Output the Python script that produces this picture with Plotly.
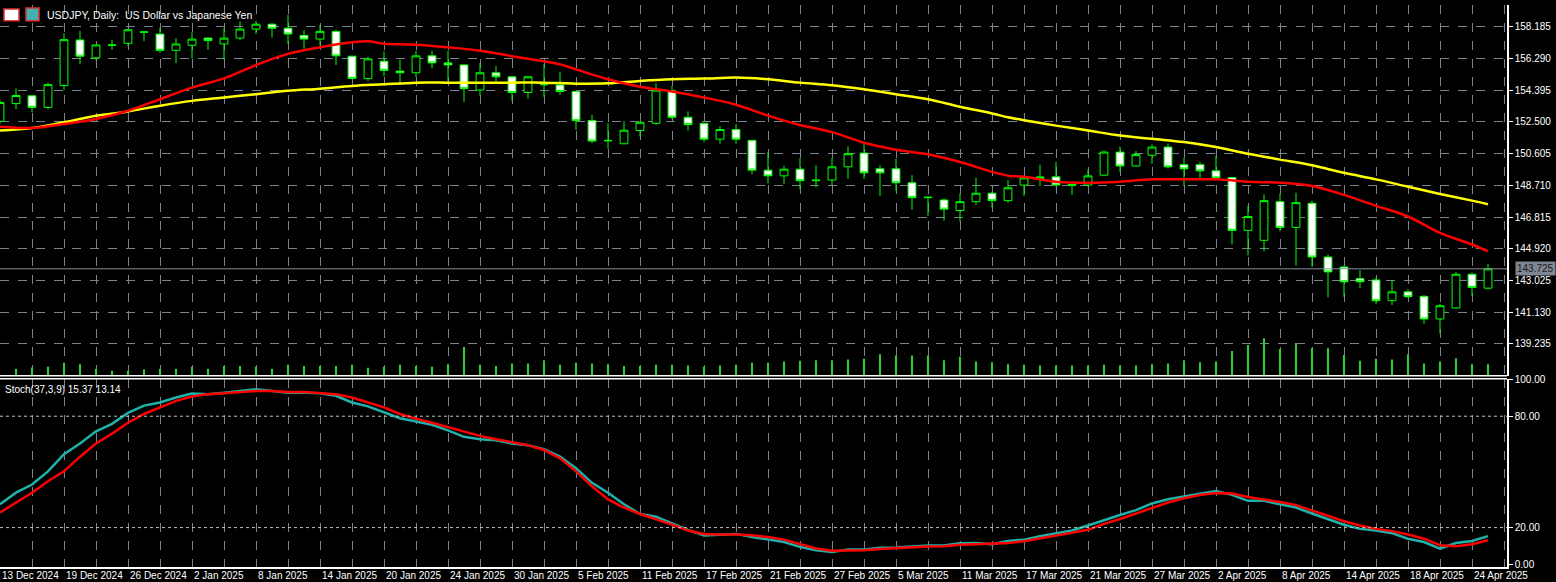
import plotly.graph_objects as go

# daily USDJPY candles, bar index 0 = 13 Dec 2024 ... 93 = 25 Apr 2025
opens = [152.54, 153.60, 154.06, 153.37, 154.67, 157.40, 156.33, 157.08, 157.20, 157.86,
         157.75, 156.78, 157.08, 157.51, 157.16, 157.51, 158.05, 158.34, 158.10, 157.67,
         157.45, 157.91, 156.43, 155.09, 156.13, 155.54, 155.44, 156.45, 156.03, 155.91,
         154.41, 155.44, 155.20, 154.26, 154.75, 154.71, 154.32, 152.58, 151.40, 151.20,
         151.99, 152.42, 154.36, 152.78, 152.42, 151.47, 152.05, 151.40, 149.62, 149.28,
         149.68, 148.99, 149.03, 149.82, 150.64, 149.70, 149.70, 148.87, 147.98, 147.84,
         147.21, 147.74, 148.24, 147.80, 148.73, 149.12, 149.22, 148.70, 148.73, 149.32,
         150.70, 149.87, 150.51, 151.00, 149.95, 149.95, 149.58, 149.18, 146.02, 145.43,
         147.74, 146.20, 147.64, 144.43, 143.83, 143.14, 143.06, 141.82, 142.35, 142.08,
         140.73, 141.39, 143.40, 142.57]
highs = [153.80, 154.51, 154.10, 154.85, 157.81, 157.95, 157.15, 157.42, 158.05, 157.90,
         158.15, 157.51, 157.87, 157.57, 158.10, 158.50, 158.54, 158.40, 158.90, 157.97,
         158.30, 158.00, 156.45, 156.39, 156.72, 156.23, 156.76, 156.76, 156.76, 155.95,
         156.03, 155.84, 155.25, 155.25, 155.95, 155.50, 154.35, 152.92, 152.42, 152.54,
         152.50, 154.81, 154.65, 153.13, 152.45, 152.24, 152.38, 151.42, 150.70, 149.88,
         150.35, 149.91, 150.35, 151.04, 151.20, 149.91, 150.31, 149.32, 148.05, 147.94,
         148.24, 149.16, 148.34, 149.03, 149.20, 149.95, 150.11, 148.80, 149.66, 150.80,
         151.04, 150.76, 151.16, 151.20, 150.35, 150.11, 150.47, 149.22, 147.49, 148.18,
         148.24, 148.27, 147.80, 144.58, 143.93, 143.64, 143.20, 143.06, 142.51, 142.16,
         141.62, 143.54, 143.50, 144.03]
lows = [152.40, 153.27, 153.07, 153.27, 154.40, 155.94, 156.20, 156.82, 157.02, 157.32,
        156.63, 156.01, 156.29, 156.82, 156.23, 157.38, 157.75, 157.55, 157.16, 156.88,
        157.08, 155.90, 155.05, 154.95, 155.24, 154.75, 155.18, 155.70, 154.91, 153.70,
        154.06, 154.91, 153.76, 153.90, 154.00, 154.12, 152.03, 151.24, 150.90, 151.16,
        151.63, 152.34, 152.68, 151.99, 151.30, 151.20, 151.20, 149.38, 148.83, 148.79,
        148.47, 148.59, 148.73, 149.09, 149.09, 148.08, 148.39, 147.25, 146.89, 146.60,
        146.56, 147.55, 147.39, 147.68, 148.08, 148.67, 148.63, 148.14, 148.63, 149.26,
        149.52, 149.81, 150.01, 149.72, 148.67, 149.12, 149.12, 145.18, 144.52, 144.78,
        145.97, 143.93, 143.85, 142.02, 142.06, 142.57, 141.62, 141.56, 142.00, 140.44,
        139.85, 141.35, 142.12, 142.50]
closes = [153.66, 154.08, 153.37, 154.73, 157.42, 156.43, 157.10, 157.10, 158.01, 157.88,
          156.78, 157.16, 157.45, 157.36, 157.51, 158.05, 158.34, 158.10, 157.75, 157.45,
          157.91, 156.45, 155.10, 156.27, 155.58, 155.44, 156.45, 156.03, 155.91, 154.49,
          155.44, 155.20, 154.26, 155.20, 154.73, 154.32, 152.58, 151.36, 151.38, 152.01,
          152.48, 154.40, 152.78, 152.34, 151.47, 152.05, 151.47, 149.62, 149.28, 149.68,
          148.99, 149.02, 149.82, 150.61, 149.46, 149.46, 148.87, 147.98, 148.00, 147.29,
          147.74, 148.24, 147.80, 148.57, 149.16, 149.22, 148.73, 148.76, 149.28, 150.70,
          149.87, 150.55, 151.00, 149.82, 149.70, 149.58, 149.16, 146.02, 146.85, 147.80,
          146.20, 147.68, 144.43, 143.54, 142.95, 142.95, 141.82, 142.35, 142.06, 140.73,
          141.52, 143.40, 142.61, 143.725]

# tick volume, bars 1..93
volume = [21, 25, 27, 39, 35, 21, 15, 15, 19, 21, 21, 27, 21, 29, 29, 27, 21, 33, 29, 29,
          29, 33, 24, 27, 33, 29, 27, 35, 87, 33, 29, 37, 37, 47, 33, 39, 37, 35, 29, 29,
          33, 33, 31, 27, 31, 33, 39, 39, 43, 45, 47, 47, 49, 51, 65, 61, 61, 61, 47, 57,
          43, 41, 35, 33, 31, 31, 31, 31, 33, 31, 31, 35, 37, 47, 41, 43, 75, 93, 113, 81,
          99, 83, 83, 63, 45, 51, 49, 65, 37, 43, 53, 35, 35]

# moving averages read at selected bars
ma_fast_x = [0, 2, 4, 6, 8, 10, 12, 14, 16, 18, 20, 22, 23, 24, 26, 28, 30, 32, 35, 36,
             38, 40, 42, 44, 46, 48, 50, 52, 54, 56, 58, 60, 62, 63, 64, 66, 68, 70, 72, 74,
             76, 78, 80, 82, 84, 86, 88, 90, 92, 93]
ma_fast = [152.22, 152.14, 152.38, 152.68, 153.17, 153.86, 154.55, 155.10, 155.90, 156.57,
           156.96, 157.26, 157.32, 157.18, 157.12, 156.96, 156.76, 156.43, 155.94, 155.64,
           155.05, 154.60, 154.32, 153.96, 153.53, 152.88, 152.32, 151.89, 151.26, 150.84,
           150.57, 150.11, 149.52, 149.29, 149.22, 148.93, 148.87, 148.93, 149.07, 149.07,
           149.07, 148.93, 148.87, 148.67, 148.14, 147.49, 146.85, 145.87, 145.18, 144.78]
ma_slow_x = [0, 2, 4, 6, 8, 10, 12, 14, 16, 18, 20, 22, 24, 26, 28, 30, 32, 34, 36, 38,
             40, 42, 44, 46, 48, 50, 52, 54, 56, 58, 60, 62, 63, 64, 66, 68, 70, 72, 74, 76,
             78, 80, 82, 84, 86, 88, 90, 92, 93]
ma_slow = [151.99, 152.14, 152.48, 152.87, 153.13, 153.47, 153.76, 153.96, 154.16, 154.36,
           154.49, 154.65, 154.75, 154.85, 154.85, 154.85, 154.85, 154.85, 154.79, 154.81,
           154.95, 155.05, 155.09, 155.15, 155.05, 154.85, 154.69, 154.45, 154.16, 153.86,
           153.41, 153.01, 152.78, 152.60, 152.28, 151.99, 151.69, 151.49, 151.30, 151.00,
           150.60, 150.25, 149.91, 149.46, 149.07, 148.63, 148.20, 147.80, 147.58]

# Stochastic(37,3,9)
stoch_main = [32.6, 38.8, 43.2, 50.3, 59.5, 65.3, 71.9, 75.9, 81.8, 85.7, 87.4, 90.1, 92.2, 91.9,
              92.7, 93.6, 94.5, 93.6, 92.7, 92.7, 92.4, 91.0, 87.4, 85.3, 82.1, 78.9, 77.2, 75.4,
              72.4, 68.9, 67.6, 67.1, 65.3, 64.4, 62.3, 58.2, 52.0, 44.1, 38.8, 32.6, 27.3, 25.8,
              22.3, 18.8, 15.8, 16.3, 16.6, 14.9, 13.7, 12.2, 9.6, 7.8, 6.9, 8.2, 8.2, 9.1, 9.2,
              9.9, 10.3, 10.3, 11.5, 11.7, 11.0, 12.8, 13.5, 15.3, 17.0, 18.4, 21.1, 24.1, 26.8,
              29.4, 33.0, 35.3, 37.0, 38.3, 39.7, 37.6, 34.4, 34.4, 32.6, 30.8, 27.6, 24.6, 21.5,
              19.3, 18.4, 17.0, 14.0, 12.2, 8.7, 11.7, 12.8, 15.37]
stoch_signal = [28.1, 33.4, 38.8, 45.0, 50.3, 58.2, 65.3, 70.6, 76.5, 81.2, 84.8, 88.3, 90.6, 91.9,
                92.4, 93.1, 93.6, 93.6, 93.1, 93.1, 92.7, 91.9, 90.1, 87.4, 84.8, 81.2, 78.6, 76.5,
                74.2, 71.5, 69.4, 67.6, 66.2, 64.4, 61.8, 57.3, 50.3, 42.3, 35.2, 30.8, 27.3, 24.6,
                21.6, 18.4, 16.6, 16.3, 16.3, 15.8, 14.9, 13.5, 11.0, 8.7, 7.5, 7.5, 7.8, 8.5, 8.9,
                9.6, 9.8, 9.9, 10.8, 11.0, 11.2, 11.7, 12.6, 14.0, 15.8, 17.2, 18.8, 22.0, 24.6,
                27.6, 30.5, 33.5, 35.8, 37.6, 38.6, 38.3, 36.5, 35.3, 33.8, 32.1, 29.1, 26.4, 23.4,
                21.1, 19.3, 18.1, 16.3, 14.0, 10.5, 9.9, 11.0, 13.14]

date_labels = ["13 Dec 2024", "19 Dec 2024", "26 Dec 2024", "2 Jan 2025", "8 Jan 2025",
               "14 Jan 2025", "20 Jan 2025", "24 Jan 2025", "30 Jan 2025", "5 Feb 2025",
               "11 Feb 2025", "17 Feb 2025", "21 Feb 2025", "27 Feb 2025", "5 Mar 2025",
               "11 Mar 2025", "17 Mar 2025", "21 Mar 2025", "27 Mar 2025", "2 Apr 2025",
               "8 Apr 2025", "14 Apr 2025", "18 Apr 2025", "24 Apr 2025"]
price_ticks = [158.185, 156.290, 154.395, 152.500, 150.605, 148.710, 146.815,
               144.920, 143.025, 141.130, 139.235]
last_price = 143.725

bars = list(range(len(opens)))
GRID = "#7d838e"
FONT = "Liberation Sans, Arial, sans-serif"

fig = go.Figure()
fig.add_trace(go.Bar(x=bars[1:], y=volume, width=0.13, marker_color="#32cd32",
                     marker_line_width=0, yaxis="y3", hoverinfo="skip"))
fig.add_trace(go.Candlestick(
    x=bars, open=opens, high=highs, low=lows, close=closes,
    increasing=dict(fillcolor="#000000", line=dict(color="#00ff00", width=1)),
    decreasing=dict(fillcolor="#ffffff", line=dict(color="#00ff00", width=1)),
    whiskerwidth=0, hoverinfo="skip"))
fig.add_trace(go.Scatter(x=ma_slow_x, y=ma_slow, mode="lines",
                         line=dict(color="#ffff00", width=2.5), line_shape="spline"))
fig.add_trace(go.Scatter(x=ma_fast_x, y=ma_fast, mode="lines",
                         line=dict(color="#ff0000", width=2.5), line_shape="spline"))
fig.add_trace(go.Scatter(x=bars, y=stoch_main, mode="lines", xaxis="x2", yaxis="y2",
                         line=dict(color="#20b2aa", width=2.5)))
fig.add_trace(go.Scatter(x=bars, y=stoch_signal, mode="lines", xaxis="x2", yaxis="y2",
                         line=dict(color="#ff0000", width=2.5)))

main_bottom = 0.3404
stoch_top = 0.335
xr = [0, 1507 / 16]

shapes = [
    dict(type="line", xref="paper", yref="paper", x0=0, x1=1, y0=main_bottom, y1=main_bottom,
         line=dict(color="#ffffff", width=1.5)),
    dict(type="line", xref="paper", yref="paper", x0=0, x1=1, y0=stoch_top, y1=stoch_top,
         line=dict(color="#ffffff", width=1.5)),
    dict(type="line", xref="paper", yref="y", x0=0, x1=1, y0=last_price, y1=last_price,
         line=dict(color="#8a929c", width=1)),
]
for lvl in (80, 20):
    shapes.append(dict(type="line", xref="paper", yref="y2", x0=0, x1=1, y0=lvl, y1=lvl,
                       line=dict(color="#c0c0c0", width=1, dash="dot")))
# toolbar icons
shapes += [
    dict(type="rect", xref="paper", yref="paper", x0=4 / 1507, x1=19 / 1507,
         y0=1 - 4 / 567, y1=1 - 16 / 567, fillcolor="#ffffff", line=dict(color="#e03030", width=1.5)),
    dict(type="rect", xref="paper", yref="paper", x0=26 / 1507, x1=39 / 1507,
         y0=1 - 3 / 567, y1=1 - 16 / 567, fillcolor="#40b0b0", line=dict(color="#e03030", width=1.5)),
]

annotations = [
    dict(text="USDJPY, Daily:  US Dollar vs Japanese Yen", xref="paper", yref="paper",
         x=45 / 1507, y=1 - 2 / 567, xanchor="left", yanchor="top", showarrow=False,
         font=dict(color="#ffffff", size=10.5, family=FONT)),
    dict(text="Stoch(37,3,9) 15.37 13.14", xref="paper", yref="paper",
         x=3 / 1507, y=stoch_top - 3 / 567, xanchor="left", yanchor="top", showarrow=False,
         font=dict(color="#ffffff", size=10, family=FONT)),
    dict(text=f"{last_price:.3f}", xref="paper", yref="y", x=1 + 8 / 1507, y=last_price,
         xanchor="left", yanchor="middle", showarrow=False, bgcolor="#7e8793",
         font=dict(color="#1a1a1a", size=10, family=FONT), borderpad=1),
]
for k, lab in enumerate(date_labels):
    annotations.append(dict(text=lab, xref="x2", yref="paper", x=4 * k, y=0,
                            xanchor="left", yanchor="top", yshift=-1, showarrow=False,
                            font=dict(color="#ffffff", size=10, family=FONT)))

fig.update_layout(
    width=1556, height=582, margin=dict(l=0, r=49, t=0, b=15),
    paper_bgcolor="#000000", plot_bgcolor="#000000", showlegend=False,
    xaxis=dict(range=xr, domain=[0, 1], anchor="y", showticklabels=False,
               rangeslider=dict(visible=False), tick0=0, dtick=2,
               showgrid=True, gridcolor=GRID, griddash="dash", gridwidth=1, zeroline=False),
    xaxis2=dict(range=xr, domain=[0, 1], anchor="y2", showticklabels=False, tick0=0, dtick=2,
                showgrid=True, gridcolor=GRID, griddash="dash", gridwidth=1, zeroline=False,
                showline=True, linecolor="#ffffff", linewidth=1.5, mirror=False),
    yaxis=dict(domain=[main_bottom, 1], range=[137.34, 159.488], side="right",
               tickvals=price_ticks, ticktext=[f"{v:.3f}" for v in price_ticks],
               showgrid=True, gridcolor=GRID, griddash="dash", gridwidth=1, zeroline=False,
               ticks="outside", ticklen=4, tickcolor="#ffffff",
               showline=True, linecolor="#ffffff", linewidth=1.5,
               tickfont=dict(color="#ffffff", size=10, family=FONT)),
    yaxis3=dict(domain=[main_bottom, 1], range=[0, 1122], overlaying="y",
                visible=False, showgrid=False),
    yaxis2=dict(domain=[0, stoch_top], range=[-1.24, 100.2], side="right",
                tickvals=[100, 80, 20, 0], ticktext=["100.00", "80.00", "20.00", "0.00"],
                showgrid=False, zeroline=False, ticks="outside", ticklen=4, tickcolor="#ffffff",
                showline=True, linecolor="#ffffff", linewidth=1.5,
                tickfont=dict(color="#ffffff", size=10, family=FONT)),
    shapes=shapes, annotations=annotations,
)

fig.write_html("out.html", config={"displayModeBar": False},
               post_script="document.body.style.margin='0';")
